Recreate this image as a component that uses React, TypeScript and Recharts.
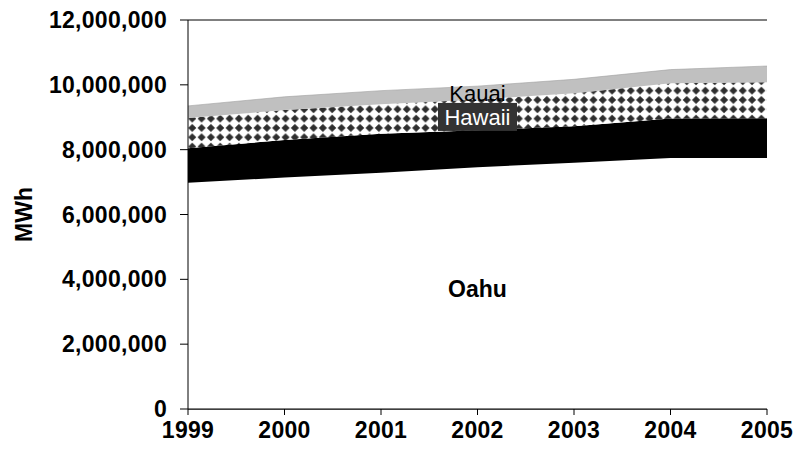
import React from 'react';
import { AreaChart, Area, XAxis, YAxis, CartesianGrid, ReferenceDot } from 'recharts';

const years = ['1999', '2000', '2001', '2002', '2003', '2004', '2005'];
const oahu = [6980000, 7140000, 7290000, 7460000, 7600000, 7740000, 7740000];
const maui = [1060000, 1160000, 1200000, 1140000, 1120000, 1220000, 1230000];
const hawaii = [940000, 920000, 910000, 950000, 1020000, 1090000, 1110000];
const kauai = [370000, 410000, 420000, 410000, 430000, 420000, 500000];
const yTicks = [0, 2000000, 4000000, 6000000, 8000000, 10000000, 12000000];

const labelYear = '2002';
const kauaiLabelValue = 9740000;
const hawaiiLabelValue = 9010000;
const oahuLabelValue = 3700000;

const data = years.map((y, i) => ({
  year: y,
  Oahu: oahu[i],
  Maui: maui[i],
  Hawaii: hawaii[i],
  Kauai: kauai[i],
}));

const FONT = '"Liberation Sans", Arial, sans-serif';

const fmt = (v: number) => v.toLocaleString('en-US');

const centerOf = (props: any) => {
  const vb = props.viewBox || {};
  return { cx: (vb.x || 0) + (vb.width || 0) / 2, cy: (vb.y || 0) + (vb.height || 0) / 2 };
};

const KauaiLabel = (props: any) => {
  const { cx, cy } = centerOf(props);
  return (
    <text x={cx} y={cy} dy="0.36em" textAnchor="middle" fontFamily={FONT} fontSize={22} fill="#000">
      Kauai
    </text>
  );
};

const HawaiiLabel = (props: any) => {
  const { cx, cy } = centerOf(props);
  return (
    <g>
      <rect x={cx - 39.5} y={cy - 14} width={79} height={28} fill="#333333" />
      <text x={cx} y={cy} dy="0.36em" textAnchor="middle" fontFamily={FONT} fontSize={22} fill="#ffffff">
        Hawaii
      </text>
    </g>
  );
};

const OahuLabel = (props: any) => {
  const { cx, cy } = centerOf(props);
  return (
    <text x={cx} y={cy} dy="0.36em" textAnchor="middle" fontFamily={FONT} fontSize={23} fontWeight="bold" fill="#000">
      Oahu
    </text>
  );
};

const MWhLabel = (props: any) => {
  const vb = props.viewBox || {};
  const x = (vb.x || 0) + 24;
  const y = (vb.y || 0) + (vb.height || 0) / 2;
  return (
    <text
      x={x}
      y={y}
      dy="0.36em"
      textAnchor="middle"
      transform={`rotate(-90 ${x} ${y})`}
      fontFamily={FONT}
      fontSize={23}
      fontWeight="bold"
      fill="#000"
    >
      MWh
    </text>
  );
};

const tickStyle = { fill: '#000', fontSize: 23, fontWeight: 'bold', fontFamily: FONT, letterSpacing: 0.3 };

export default function App() {
  return (
    <div style={{ position: 'absolute', left: 0, top: 0, width: 794, height: 451, background: '#fff' }}>
      <AreaChart
        width={794}
        height={451}
        data={data}
        margin={{ top: 20, right: 27, left: 0, bottom: 0 }}
      >
        <defs>
          <pattern id="diamonds" patternUnits="userSpaceOnUse" width={9.33} height={9.33} x={1} y={2}>
            <rect x={0} y={0} width={9.33} height={9.33} fill="#ffffff" />
            <polygon points="4.66,0.6 8.7,4.66 4.66,8.7 0.6,4.66" fill="#2e2e2e" />
          </pattern>
        </defs>
        <CartesianGrid horizontal vertical={false} stroke="#000" strokeWidth={1} />
        <XAxis
          dataKey="year"
          height={42}
          axisLine={{ stroke: '#000' }}
          tickLine={{ stroke: '#000' }}
          tickSize={6}
          tickMargin={7}
          interval={0}
          tick={tickStyle}
        />
        <YAxis
          yAxisId="left"
          width={188}
          domain={[0, 12000000]}
          ticks={yTicks}
          interval={0}
          tickFormatter={fmt}
          axisLine={{ stroke: '#000' }}
          tickLine={{ stroke: '#000' }}
          tickSize={8}
          tickMargin={13}
          tick={tickStyle}
          label={MWhLabel}
        />
        <YAxis
          yAxisId="right"
          orientation="right"
          width={0}
          domain={[0, 12000000]}
          ticks={yTicks}
          interval={0}
          mirror
          tickFormatter={() => ''}
          axisLine={{ stroke: '#000' }}
          tickLine={{ stroke: '#000' }}
          tickSize={4}
        />
        <Area yAxisId="left" type="linear" dataKey="Oahu" stackId="a" fill="#ffffff" fillOpacity={1} stroke="none" isAnimationActive={false} />
        <Area yAxisId="left" type="linear" dataKey="Maui" stackId="a" fill="#000000" fillOpacity={1} stroke="none" isAnimationActive={false} />
        <Area yAxisId="left" type="linear" dataKey="Hawaii" stackId="a" fill="url(#diamonds)" fillOpacity={1} stroke="none" isAnimationActive={false} />
        <Area yAxisId="left" type="linear" dataKey="Kauai" stackId="a" fill="#c0c0c0" fillOpacity={1} stroke="#a0a0a0" strokeWidth={0.6} isAnimationActive={false} />
        <ReferenceDot yAxisId="left" x={labelYear} y={kauaiLabelValue} r={1} fill="none" stroke="none" label={KauaiLabel} />
        <ReferenceDot yAxisId="left" x={labelYear} y={hawaiiLabelValue} r={1} fill="none" stroke="none" label={HawaiiLabel} />
        <ReferenceDot yAxisId="left" x={labelYear} y={oahuLabelValue} r={1} fill="none" stroke="none" label={OahuLabel} />
      </AreaChart>
    </div>
  );
}
